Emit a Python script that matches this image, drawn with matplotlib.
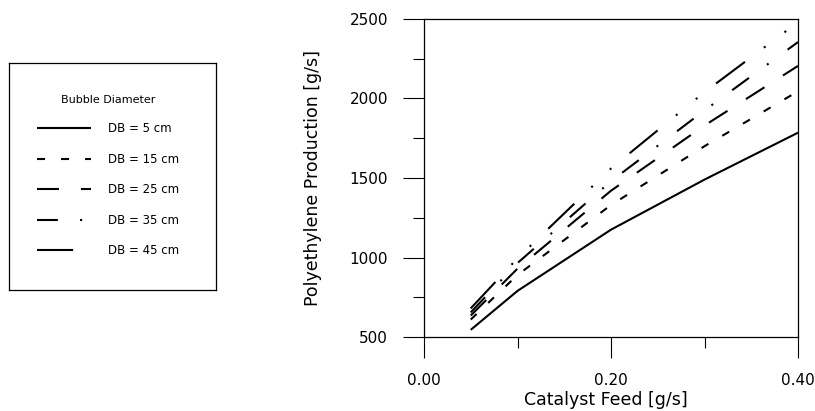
import numpy as np
import matplotlib
matplotlib.use("Agg")
import matplotlib.pyplot as plt
from matplotlib.ticker import MultipleLocator, FormatStrFormatter

# ----- DATA -----
catalyst_feed = [0.05, 0.10, 0.20, 0.30, 0.40]   # g/s
prod_db5 = [545, 790, 1175, 1490, 1785]
prod_db15 = [610, 890, 1330, 1700, 2045]
prod_db25 = [635, 930, 1420, 1830, 2205]
prod_db35 = [655, 965, 1480, 1925, 2355]
prod_db45 = [680, 995, 1560, 2040, 2480]
series_labels = ["DB = 5 cm", "DB = 15 cm", "DB = 25 cm", "DB = 35 cm", "DB = 45 cm"]
legend_title = "Bubble Diameter"

# dash patterns in points (not scaled by line width)
plt.rcParams['lines.scale_dashes'] = False
plt.rcParams['font.family'] = ['DejaVu Sans']
styles = [
    (),                                   # solid
    (5.8, 11.5),                          # short dashes
    (15.8, 15.8),                         # long dashes
    (15.0, 16.0, 1.5, 17.0),              # long dash - dot
    (26.0, 17.0, 1.5, 17.0, 1.5, 17.0),   # long dash - dot - dot
]

fig = plt.figure(figsize=(8.15, 4.11), dpi=100)
ax = fig.add_axes([424/815, 1 - 337/411, 374/815, 318/411])

series = [prod_db5, prod_db15, prod_db25, prod_db35, prod_db45]
lines = []
for vals, lab, dash in zip(series, series_labels, styles):
    ln, = ax.plot(catalyst_feed, vals, color='black', lw=1.5, label=lab,
                  solid_capstyle='butt', dash_capstyle='butt')
    if dash:
        ln.set_dashes(dash)
    lines.append(ln)

# --- axes formatting ---
ax.set_xlim(0, 0.4)
ax.set_ylim(500, 2500)
ax.xaxis.set_major_locator(MultipleLocator(0.2))
ax.xaxis.set_minor_locator(MultipleLocator(0.1))
ax.yaxis.set_major_locator(MultipleLocator(500))
ax.yaxis.set_minor_locator(MultipleLocator(250))
ax.xaxis.set_major_formatter(FormatStrFormatter('%.2f'))
ax.tick_params(which='major', direction='out', length=15, width=0.8, pad=11, labelsize=11)
ax.tick_params(which='minor', direction='out', length=8, width=0.8)
for sp in ax.spines.values():
    sp.set_linewidth(0.9)

ax.set_xlabel('Catalyst Feed [g/s]', fontsize=12.5)
ax.set_ylabel('Polyethylene Production [g/s]', fontsize=12.5)
ax.yaxis.set_label_coords(-0.272, 0.5)
ax.xaxis.set_label_coords(0.485, -0.17)
ax.xaxis.label.set_va('top')

# --- legend in its own framed box on the left ---
ax_leg = fig.add_axes([9/815, 1 - 290/411, 207/815, 227/411])
ax_leg.set_xticks([])
ax_leg.set_yticks([])
for sp in ax_leg.spines.values():
    sp.set_linewidth(0.9)
ax_leg.legend(handles=lines, labels=series_labels, title=legend_title,
              loc='upper left', bbox_to_anchor=(0.105, 0.885), frameon=False,
              fontsize=8.5, title_fontsize=8, borderpad=0,
              handlelength=4.6, handletextpad=1.45, labelspacing=1.48)

fig.savefig('out.png', dpi=100)
